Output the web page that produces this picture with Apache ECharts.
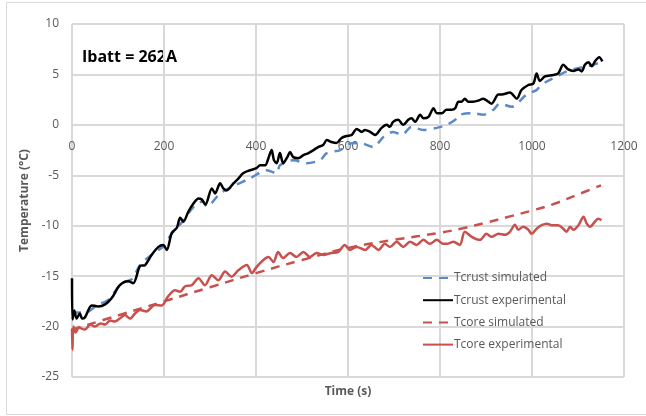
<!DOCTYPE html>
<html>
<head>
<meta charset="utf-8">
<script src="https://cdn.jsdelivr.net/npm/echarts@6/dist/echarts.min.js"></script>
<style>
  html, body { margin: 0; padding: 0; background: #fff; }
  #chart { width: 646px; height: 416px; }
</style>
</head>
<body>
<div id="chart"></div>
<script>
// Battery temperature during a 262 A discharge: crust and core, simulated vs measured.
// Each series is a list of [time (s), temperature (°C)] pairs.

const seriesNames = ['Tcrust simulated', 'Tcrust experimental', 'Tcore simulated', 'Tcore experimental'];

const timeTicks = [0, 200, 400, 600, 800, 1000, 1200];
const tempTicks = [-25, -20, -15, -10, -5, 0, 5, 10];

const crustSimulated = [
  [0, -18.6], [30, -18.6], [54, -17.9], [80, -17.3], [108, -15.7], [130, -15.3],
  [148, -13.9], [175, -12.8], [200, -12.0], [215, -10.9], [240, -9.6], [265, -8.1],
  [285, -7.6], [293, -8.1], [322, -6.8], [350, -6.1], [387, -5.3], [423, -4.5],
  [445, -4.8], [452, -4.0], [481, -3.5], [510, -3.8], [539, -3.5], [554, -2.8],
  [583, -2.5], [600, -1.9], [626, -1.8], [655, -2.2], [677, -1.2], [698, -0.7],
  [717, -1.0], [738, -0.2], [764, -0.5], [793, -0.3], [814, 0.0], [833, 0.5],
  [843, 1.0], [872, 1.15], [894, 1.0], [916, 1.5], [930, 2.1], [956, 1.8],
  [988, 3.0], [1010, 3.45], [1017, 3.8], [1032, 4.3], [1054, 4.8], [1075, 5.3],
  [1097, 5.6], [1120, 5.8], [1150, 6.2]
];

const crustExperimental = [
  [0, -15.2], [1, -19.3], [5, -18.4], [10, -19.2], [17, -18.7], [22, -19.2], [28, -19.1],
  [43, -17.9], [57, -18.0], [72, -17.8], [86, -17.2], [104, -15.9], [122, -15.5],
  [133, -15.7], [148, -14.0], [159, -13.9], [173, -12.9], [188, -12.1], [198, -11.9],
  [206, -12.4], [217, -10.7], [228, -10.2], [235, -9.2], [242, -9.6], [253, -8.6],
  [264, -7.8], [275, -7.3], [282, -7.4], [290, -7.9], [304, -6.3], [311, -6.8],
  [322, -5.8], [329, -6.3], [336, -6.5], [351, -5.8], [362, -5.3], [372, -4.8],
  [387, -4.5], [401, -4.3], [409, -4.0], [420, -4.0], [427, -3.3], [434, -2.5],
  [439, -3.5], [445, -3.8], [452, -2.8], [459, -3.8], [468, -3.2], [474, -2.7],
  [481, -3.2], [492, -3.3], [503, -3.0], [514, -2.8], [525, -2.5], [535, -2.2],
  [546, -2.0], [554, -1.5], [564, -1.7], [575, -1.8], [586, -1.3], [597, -1.1],
  [608, -1.0], [619, -0.4], [630, -0.7], [637, -0.5], [648, -0.7], [659, -1.0],
  [673, -0.3], [684, 0.0], [691, -0.2], [698, 0.3], [709, 0.5], [720, 0.0],
  [731, 0.5], [738, 0.65], [746, 0.3], [757, 1.0], [764, 0.65], [775, 0.8],
  [786, 1.65], [793, 1.15], [804, 1.15], [814, 1.5], [825, 1.5], [833, 1.65],
  [840, 2.3], [847, 2.3], [854, 2.6], [861, 2.3], [872, 2.3], [883, 2.4],
  [894, 2.6], [905, 2.3], [912, 2.1], [927, 3.0], [934, 3.0], [952, 3.2],
  [967, 2.6], [977, 3.45], [992, 3.95], [1003, 4.1], [1010, 5.1], [1017, 4.35],
  [1028, 4.8], [1046, 4.95], [1057, 5.1], [1068, 5.95], [1079, 5.5], [1090, 5.35],
  [1101, 5.5], [1108, 5.3], [1115, 5.95], [1123, 6.2], [1130, 5.8], [1137, 6.3],
  [1146, 6.7], [1153, 6.3]
];

const coreSimulated = [
  [0, -20.3], [100, -18.9], [200, -17.5], [300, -16.1], [400, -14.7], [500, -13.4],
  [600, -12.2], [700, -11.4], [800, -10.7], [850, -10.25], [900, -9.7], [950, -9.1],
  [1000, -8.5], [1050, -7.8], [1100, -6.9], [1150, -6.0]
];

const coreExperimental = [
  [0, -20.2], [1, -22.3], [3, -20.0], [8, -20.6], [15, -20.1], [28, -20.3], [40, -19.8],
  [50, -20.0], [62, -19.7], [72, -19.8], [83, -19.4], [93, -19.5], [104, -19.2],
  [115, -18.85], [126, -19.2], [137, -18.7], [148, -18.35], [162, -18.5], [180, -17.85],
  [195, -17.9], [209, -17.0], [224, -16.4], [235, -16.55], [246, -16.0], [260, -15.9],
  [275, -15.2], [289, -15.9], [304, -14.9], [318, -15.4], [333, -14.55], [347, -15.05],
  [362, -14.4], [380, -13.9], [391, -14.7], [401, -14.1], [416, -13.4], [427, -13.1],
  [438, -13.6], [448, -12.6], [459, -13.2], [474, -12.7], [488, -13.1], [503, -12.6],
  [517, -13.1], [532, -12.7], [546, -12.9], [564, -12.7], [579, -12.6], [593, -11.9],
  [604, -12.4], [619, -12.1], [637, -12.4], [651, -11.9], [666, -12.4], [680, -11.8],
  [691, -12.1], [706, -11.6], [720, -12.1], [735, -11.6], [749, -11.9], [764, -11.4],
  [778, -11.8], [793, -11.4], [807, -11.8], [815, -11.8], [829, -11.6], [843, -11.9],
  [854, -10.6], [869, -11.1], [887, -11.4], [901, -10.8], [912, -11.1], [927, -10.8],
  [941, -10.9], [952, -10.6], [963, -9.9], [970, -10.4], [981, -10.1], [992, -10.4],
  [999, -10.8], [1010, -10.3], [1021, -9.95], [1032, -9.8], [1043, -9.95], [1057, -9.95],
  [1068, -10.3], [1075, -10.6], [1083, -10.1], [1090, -10.4], [1101, -9.95], [1112, -9.1],
  [1119, -9.8], [1126, -10.1], [1137, -9.6], [1144, -9.3], [1151, -9.45]
];

const BLUE = '#5B8AC8';
const BLACK = '#000000';
const RED = '#C8504D';
const GRID = '#D9D9D9';
const TEXT = '#595959';
const FONT = '"Open Sans", "Liberation Sans", sans-serif';

const GRID_TOP = 24, GRID_BOTTOM = 39, CHART_H = 416;
const plotH = CHART_H - GRID_TOP - GRID_BOTTOM;
const yMin = tempTicks[0], yMax = tempTicks[tempTicks.length - 1];
// distance from the bottom edge of the plot up to the 0 °C line, where the time labels sit
const zeroLift = plotH * (0 - yMin) / (yMax - yMin);

const chart = echarts.init(document.getElementById('chart'), null, { renderer: 'canvas' });

chart.setOption({
  backgroundColor: '#ffffff',
  animation: false,
  textStyle: { fontFamily: FONT },
  graphic: [
    {
      type: 'rect',
      shape: { x: 6.5, y: 2.5, width: 700, height: 412 },
      style: { fill: 'none', stroke: '#D9D9D9', lineWidth: 1 },
      silent: true,
      z: -1
    },
    {
      type: 'text',
      left: 82, top: 49,
      style: {
        text: 'Ibatt = 262A',
        font: 'bold 16px ' + FONT,
        fill: '#000000'
      }
    }
  ],
  grid: { left: 72, right: 22, top: GRID_TOP, bottom: GRID_BOTTOM, containLabel: false },
  xAxis: {
    type: 'value',
    position: 'bottom',
    offset: -zeroLift,
    min: timeTicks[0],
    max: timeTicks[timeTicks.length - 1],
    interval: 200,
    name: 'Time (s)',
    nameLocation: 'middle',
    nameGap: zeroLift + 9,
    nameTextStyle: { color: TEXT, fontWeight: 'bold', fontSize: 12, fontFamily: FONT },
    axisLine: { show: true, onZero: false, lineStyle: { color: GRID, width: 1 } },
    axisTick: { show: false },
    axisLabel: {
      color: TEXT, fontSize: 12, margin: 16, fontFamily: FONT,
      formatter: v => String(v)
    },
    splitLine: { show: true, lineStyle: { color: GRID, width: 2 } }
  },
  yAxis: {
    type: 'value',
    min: yMin,
    max: yMax,
    interval: 5,
    name: 'Temperature (°C)',
    nameLocation: 'middle',
    nameGap: 39,
    nameTextStyle: { color: TEXT, fontWeight: 'bold', fontSize: 12, fontFamily: FONT },
    axisLine: { show: false },
    axisTick: { show: false },
    axisLabel: { color: TEXT, fontSize: 12, margin: 13, fontFamily: FONT, formatter: v => String(v) },
    splitLine: { show: true, lineStyle: { color: GRID, width: 2 } }
  },
  legend: {
    orient: 'vertical',
    left: 422,
    top: 272,
    padding: 0,
    itemWidth: 30,
    itemHeight: 14,
    itemGap: 10.2,
    itemStyle: { opacity: 0 },
    data: seriesNames.map(n => ({ name: n })),
    textStyle: { color: TEXT, fontSize: 12, fontFamily: FONT, padding: [0, 0, 0, -4] }
  },
  series: [
    {
      name: seriesNames[0], type: 'line', data: crustSimulated, showSymbol: false, symbol: 'none',
      smooth: 0.3, z: 2,
      lineStyle: { color: BLUE, width: 2.5, type: [9, 7] }, itemStyle: { color: BLUE }
    },
    {
      name: seriesNames[1], type: 'line', data: crustExperimental, showSymbol: false, symbol: 'none',
      smooth: 0.3, z: 3,
      lineStyle: { color: BLACK, width: 2.5 }, itemStyle: { color: BLACK }
    },
    {
      name: seriesNames[2], type: 'line', data: coreSimulated, showSymbol: false, symbol: 'none',
      smooth: 0.4, z: 2,
      lineStyle: { color: RED, width: 2.5, type: [9, 7] }, itemStyle: { color: RED }
    },
    {
      name: seriesNames[3], type: 'line', data: coreExperimental, showSymbol: false, symbol: 'none',
      smooth: 0.3, z: 3,
      lineStyle: { color: RED, width: 2.5 }, itemStyle: { color: RED }
    }
  ]
});
</script>
</body>
</html>
